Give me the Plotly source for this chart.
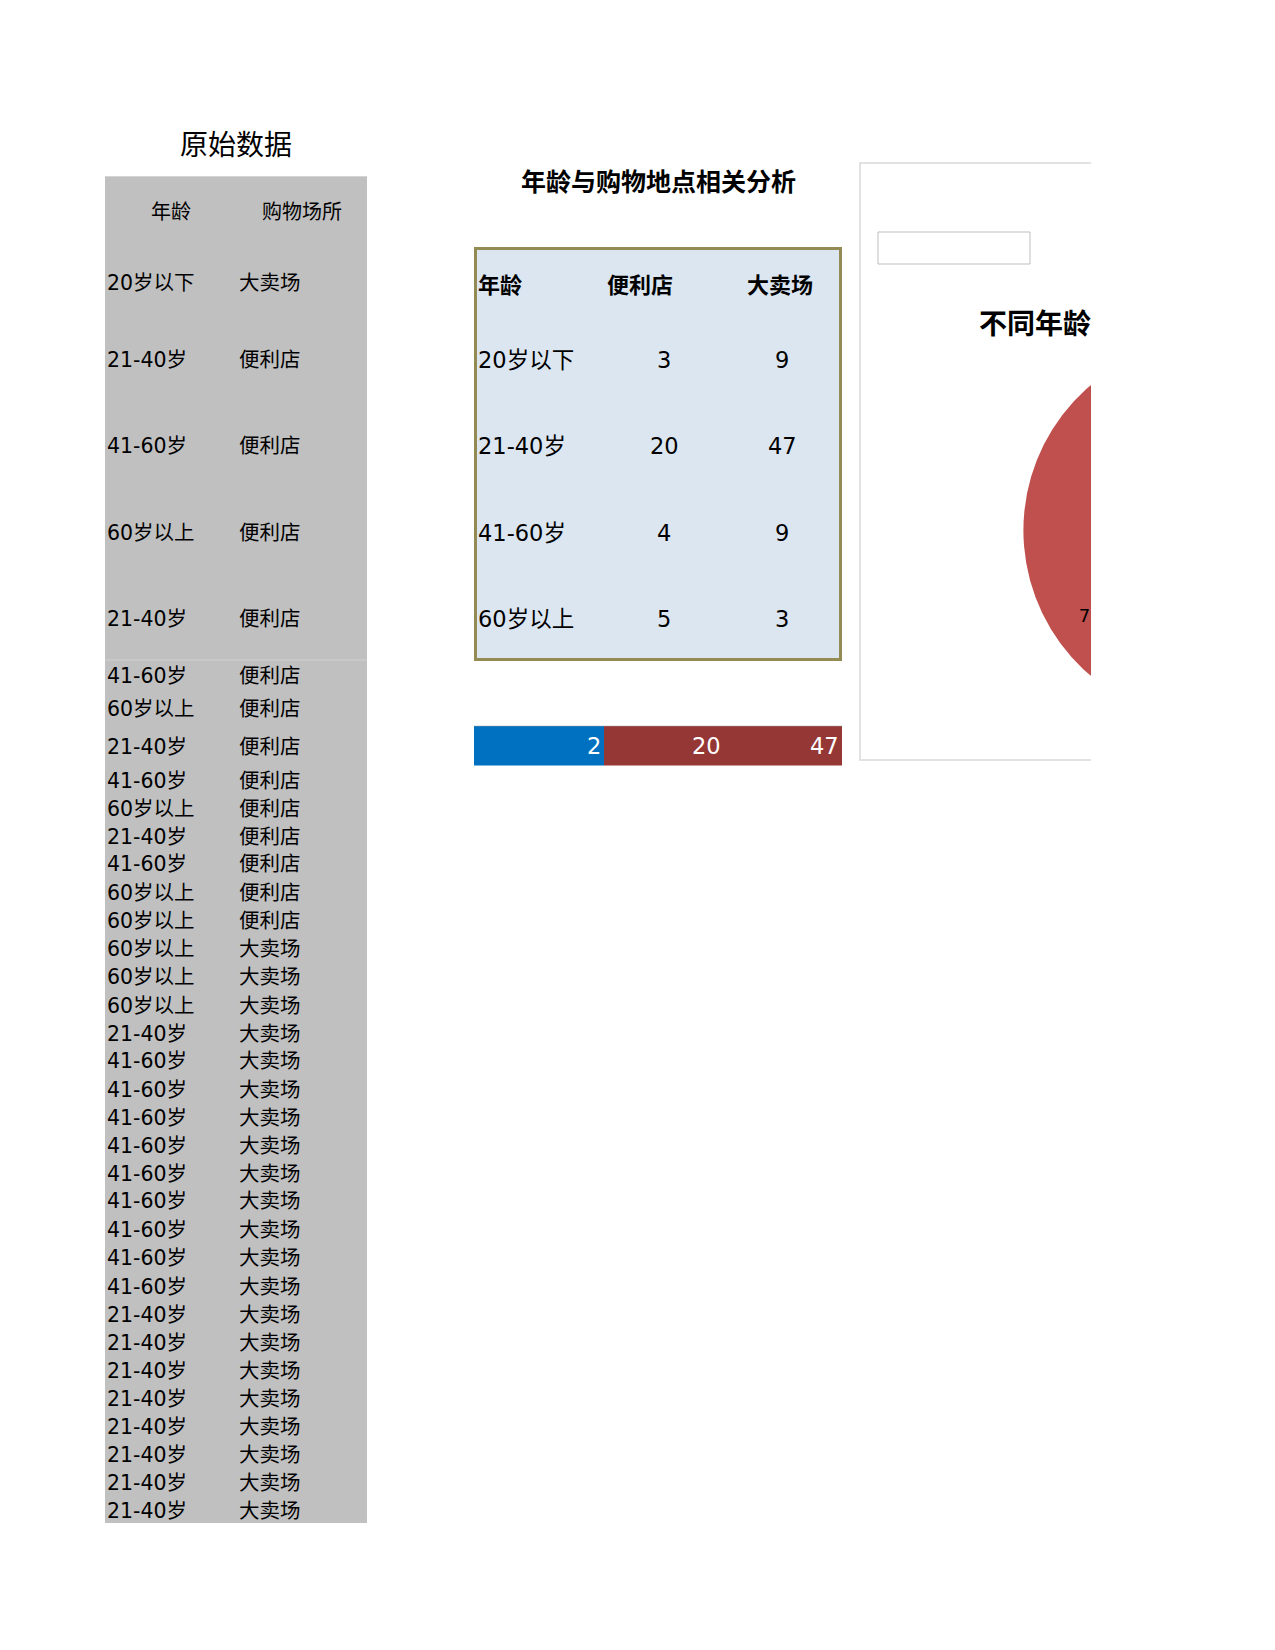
import plotly.graph_objects as go

# ---------------- data ----------------
raw_ages = [
    "20岁以下", "21-40岁", "41-60岁", "60岁以上", "21-40岁",
    "41-60岁", "60岁以上", "21-40岁", "41-60岁", "60岁以上",
    "21-40岁", "41-60岁", "60岁以上", "60岁以上", "60岁以上",
    "60岁以上", "60岁以上", "21-40岁", "41-60岁", "41-60岁",
    "41-60岁", "41-60岁", "41-60岁", "41-60岁", "41-60岁",
    "41-60岁", "41-60岁", "21-40岁", "21-40岁", "21-40岁",
    "21-40岁", "21-40岁", "21-40岁", "21-40岁", "21-40岁",
]
raw_places = [
    "大卖场", "便利店", "便利店", "便利店", "便利店",
    "便利店", "便利店", "便利店", "便利店", "便利店",
    "便利店", "便利店", "便利店", "便利店", "大卖场",
    "大卖场", "大卖场", "大卖场", "大卖场", "大卖场",
    "大卖场", "大卖场", "大卖场", "大卖场", "大卖场",
    "大卖场", "大卖场", "大卖场", "大卖场", "大卖场",
    "大卖场", "大卖场", "大卖场", "大卖场", "大卖场",
]
raw_headers = ["年龄", "购物场所"]

summary_headers = ["年龄", "便利店", "大卖场"]
summary_ages = ["20岁以下", "21-40岁", "41-60岁", "60岁以上"]
conv_counts = [3, 20, 4, 5]
hyper_counts = [9, 47, 9, 3]

strip_values = [2, 20, 47]

pie_labels = ["便利店", "大卖场"]
pie_values = [20, 47]

# ---------------- layout (page pixels) ----------------
OFF = 8              # default body margin of the html page
W, H = 1420, 1634
CUT_X = 1091         # right edge of the visible sheet

raw_row_y = [283, 360, 446, 533, 619, 676, 709, 747, 781, 809, 837, 864, 893,
             921, 949, 977, 1006, 1034, 1061, 1090, 1118, 1146, 1174, 1201,
             1230, 1258, 1287, 1315, 1343, 1371, 1399, 1427, 1455, 1483, 1511]
sum_row_y = [360, 446, 533, 619]
strip_cols = [474, 604, 724, 842]
pie_cx, pie_cy, pie_r = 1214, 530.5, 190.6
LABEL_HOLE = 0.50    # label ring of the overlay pie -> labels at 0.75 r

FONT = "DejaVu Sans, Noto Sans CJK SC, sans-serif"


def fx(x):
    return x - OFF


def fy(y):
    return y - OFF


shapes = []
annotations = []


def rect(x0, y0, x1, y1, fill=None, line=None, lw=0, layer="below"):
    shapes.append(dict(
        type="rect", xref="x", yref="y",
        x0=fx(x0), y0=fy(y0), x1=fx(x1), y1=fy(y1),
        fillcolor=fill if fill else "rgba(0,0,0,0)",
        line=dict(color=line if line else "rgba(0,0,0,0)", width=lw),
        layer=layer))


def hline(x0, x1, y, color, lw=1):
    shapes.append(dict(type="line", xref="x", yref="y",
                       x0=fx(x0), x1=fx(x1), y0=fy(y), y1=fy(y),
                       line=dict(color=color, width=lw), layer="below"))


def text(x, y, s, size, anchor="left", bold=False, color="black"):
    annotations.append(dict(
        x=fx(x), y=fy(y), xref="x", yref="y", text=s, showarrow=False,
        xanchor=anchor, yanchor="middle", borderpad=0,
        font=dict(family=FONT, size=size, color=color,
                  weight="bold" if bold else "normal")))


# ---- raw data table ----
text(236, 145, "原始数据", 28, "center")
rect(105, 176, 367, 1523, fill="#C0C0C0")
hline(105, 367, 176.5, "#D4D4D4")
hline(105, 367, 660, "#D0D0D0")
text(171, 212, raw_headers[0], 20, "center")
text(302, 212, raw_headers[1], 20, "center")
for a, p, y in zip(raw_ages, raw_places, raw_row_y):
    text(106, y, a, 20.5, "left")
    text(238, y, p, 20.5, "left")

# ---- summary table ----
text(658, 182, "年龄与购物地点相关分析", 25, "center", bold=True)
rect(475.5, 248.5, 840.5, 659.5, fill="#DCE6F1", line="#948A54", lw=3)
text(477, 285, summary_headers[0], 22, "left", bold=True)
text(640, 285, summary_headers[1], 22, "center", bold=True)
text(780, 285, summary_headers[2], 22, "center", bold=True)
for a, c, h, y in zip(summary_ages, conv_counts, hyper_counts, sum_row_y):
    text(477, y, a, 22.5, "left")
    text(664, y, str(c), 22.5, "center")
    text(782, y, str(h), 22.5, "center")

# ---- coloured strip row ----
strip_fills = ["#0070C0", "#953735", "#953735"]
for i, v in enumerate(strip_values):
    rect(strip_cols[i], 726, strip_cols[i + 1], 765.5, fill=strip_fills[i])
    text(strip_cols[i + 1] - 2, 746, str(v), 22.5, "right", color="white")
hline(474, 842, 726, "#A6A6A6", 0.5)

# ---- chart frame ----
rect(860, 163, CUT_X + 20, 760, line="#D9D9D9", lw=1.5)
rect(878, 232, 1030, 264, fill="white", line="#BFBFBF", lw=1)

# cover everything right of the visible sheet
rect(CUT_X, -50, W + 100, H + 100, fill="white", layer="above")

# ---------------- traces ----------------
fig = go.Figure()

# chart title (scatter text so it is clipped by the cover)
fig.add_trace(go.Scatter(
    x=[fx(979)], y=[fy(327)], mode="text",
    text=["不同年龄段购物场所分布"], textposition="middle right",
    textfont=dict(family=FONT, size=28, color="black", weight="bold"),
    hoverinfo="skip", showlegend=False))

dx0 = (fx(pie_cx) - pie_r) / W
dx1 = (fx(pie_cx) + pie_r) / W
dy0 = 1 - (fy(pie_cy) + pie_r) / H
dy1 = 1 - (fy(pie_cy) - pie_r) / H
pie_domain = dict(x=[dx0, dx1], y=[dy0, dy1])

# the pie itself
fig.add_trace(go.Pie(
    labels=pie_labels, values=pie_values, sort=False,
    direction="clockwise", rotation=0,
    marker=dict(colors=["#4F81BD", "#C0504D"], line=dict(width=0)),
    textinfo="none", domain=pie_domain,
    showlegend=False, hoverinfo="skip"))

# transparent overlay of the same pie that only carries the data labels
fig.add_trace(go.Pie(
    labels=pie_labels, values=pie_values, sort=False,
    direction="clockwise", rotation=0, hole=LABEL_HOLE,
    marker=dict(colors=["rgba(0,0,0,0)", "rgba(0,0,0,0)"],
                line=dict(width=0)),
    texttemplate="%{percent:.0%}", textposition="inside",
    insidetextorientation="horizontal",
    textfont=dict(family=FONT, size=18, color="black"),
    domain=pie_domain, showlegend=False, hoverinfo="skip"))

fig.update_layout(
    width=W, height=H,
    margin=dict(l=0, r=0, t=0, b=0),
    paper_bgcolor="white", plot_bgcolor="white",
    xaxis=dict(range=[0, W], visible=False, fixedrange=True),
    yaxis=dict(range=[H, 0], visible=False, fixedrange=True),
    shapes=shapes, annotations=annotations,
    showlegend=False,
)

fig.write_html("out.html")
